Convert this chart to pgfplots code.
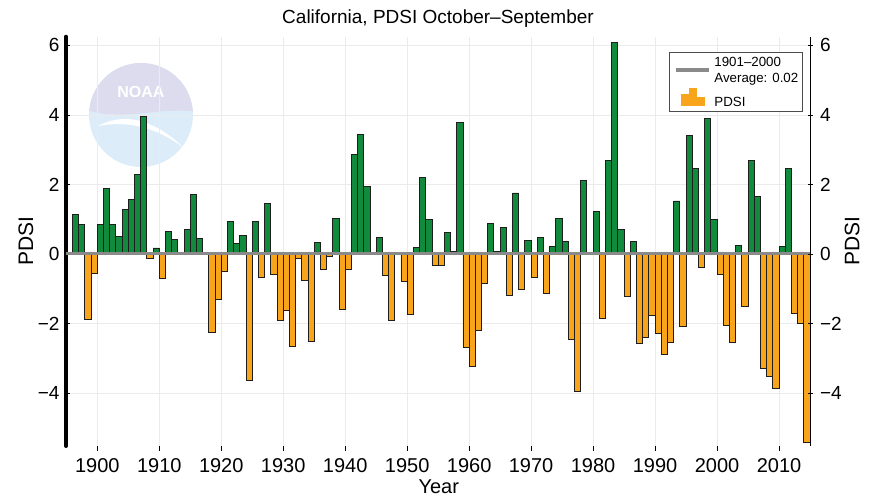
\documentclass[border=0pt]{standalone}
\usepackage{fontspec}
\setmainfont{Liberation Sans}
\usepackage{pgfplots}
\pgfplotsset{compat=1.18}
\usepackage{pgfplotstable}
\definecolor{pgreen}{HTML}{128A3E}
\definecolor{porange}{HTML}{F9A51B}
\definecolor{avggray}{HTML}{8A8A8A}
\definecolor{gridgray}{HTML}{EBEBEB}
\definecolor{edge}{HTML}{1E1E1E}
\definecolor{logoblue}{HTML}{DCEDF9}
\definecolor{logolav}{HTML}{DCDCEE}

\pgfplotstableread{
year pdsi
1896 1.15
1897 0.86
1900 0.86
1901 1.88
1902 0.86
1903 0.52
1904 1.28
1905 1.57
1906 2.29
1907 3.96
1909 0.18
1911 0.66
1912 0.43
1913 0.01
1914 0.72
1915 1.71
1916 0.46
1917 0.01
1921 0.94
1922 0.30
1923 0.53
1925 0.94
1927 1.45
1935 0.33
1938 1.03
1941 2.87
1942 3.45
1943 1.96
1944 0.01
1945 0.48
1948 0.01
1951 0.19
1952 2.21
1953 1.01
1956 0.62
1957 0.08
1958 3.79
1963 0.89
1964 0.07
1965 0.77
1967 1.76
1969 0.40
1971 0.48
1973 0.21
1974 1.03
1975 0.37
1978 2.13
1979 0.01
1980 1.23
1982 2.70
1983 6.09
1984 0.71
1986 0.37
1993 1.53
1995 3.41
1996 2.47
1998 3.89
1999 0.99
2003 0.25
2005 2.70
2006 1.67
2010 0.21
2011 2.47
}\postable

\pgfplotstableread{
year pdsi
1898 -1.87
1899 -0.54
1908 -0.12
1910 -0.71
1918 -2.25
1919 -1.31
1920 -0.50
1924 -3.64
1926 -0.66
1928 -0.58
1929 -1.90
1930 -1.62
1931 -2.66
1932 -0.13
1933 -0.76
1934 -2.50
1936 -0.43
1937 -0.05
1939 -1.60
1940 -0.43
1946 -0.62
1947 -1.91
1949 -0.77
1950 -1.72
1954 -0.31
1955 -0.31
1959 -2.67
1960 -3.21
1961 -2.20
1962 -0.84
1966 -1.18
1968 -1.01
1970 -0.66
1972 -1.14
1976 -2.46
1977 -3.93
1981 -1.85
1985 -1.21
1987 -2.57
1988 -2.39
1989 -1.75
1990 -2.28
1991 -2.89
1992 -2.54
1994 -2.08
1997 -0.37
2000 -0.59
2001 -2.06
2002 -2.54
2004 -1.50
2007 -3.27
2008 -3.51
2009 -3.86
2012 -1.69
2013 -1.98
2014 -5.40
}\negtable

\begin{document}
\begin{tikzpicture}
\path[use as bounding box] (-66pt,-52pt) rectangle (811pt,446pt);
% faint NOAA watermark (logo shapes only)
\fill[logoblue] (75pt,331pt) circle (52pt);
\begin{scope}
  \clip (75pt,331pt) circle (52pt);
  \fill[logolav] (20pt,336pt) .. controls (60pt,324pt) and (95pt,340pt) .. (130pt,334pt) -- (130pt,390pt) -- (20pt,390pt) -- cycle;
  \fill[white] (32pt,320pt) .. controls (60pt,335pt) and (90pt,325pt) .. (118pt,298pt) .. controls (92pt,318pt) and (62pt,326pt) .. (32pt,320pt) -- cycle;
\end{scope}
\node[white, font=\bfseries\fontsize{16}{16}\selectfont] at (75pt,354pt) {NOAA};

\begin{axis}[
  at={(0pt,0pt)}, anchor=south west,
  width=744pt, height=409.3pt, scale only axis,
  xmin=1894.45, xmax=2014.5, ymin=-5.51, ymax=6.25,
  axis x line*=bottom, axis y line*=left,
  x axis line style={draw=none},
  y axis line style={black, line width=4pt, line cap=round},
  xtick={1899.5,1909.5,1919.5,1929.5,1939.5,1949.5,1959.5,1969.5,1979.5,1989.5,1999.5,2009.5},
  xticklabels={1900,1910,1920,1930,1940,1950,1960,1970,1980,1990,2000,2010},
  ytick={-4,-2,0,2,4,6},
  yticklabels={−4,−2,0,2,4,6},
  grid=major,
  major grid style={gridgray, line width=1pt},
  xtick align=outside, ytick align=inside,
  major tick length=4.5pt,
  x tick style={black, line width=0.9pt},
  y tick style={black, line width=0.9pt},
  /pgf/number format/assume math mode=true,
  xticklabel style={font=\fontsize{20}{24}\selectfont, yshift=-4pt},
  yticklabel style={font=\fontsize{19}{23}\selectfont, xshift=-3pt},
  xlabel={Year},
  xlabel style={font=\fontsize{20}{24}\selectfont, at={(axis description cs:0.501,-0.1)}, anchor=center},
  ylabel={PDSI},
  ylabel style={font=\fontsize{21}{25}\selectfont, at={(axis description cs:-0.054,0.5)}, anchor=center},
  legend cell align=left,
  legend style={at={(axis description cs:0.991,0.9638)}, anchor=north east,
    draw=black!70, line width=0.9pt, fill=white,
    font=\fontsize{13.3}{16}\selectfont,
    inner xsep=2.6pt, inner ysep=1.5pt, row sep=9pt},
]
\addlegendimage{legend image code/.code={\path (-9pt,-4pt) (31pt,-4pt);
  \fill[avggray] (-5pt,-5.3pt) rectangle (27pt,-2.7pt);}}
\addlegendentry{\begin{tabular}{@{}l@{}}1901–2000\\Average: 0.02\end{tabular}}
\addlegendimage{legend image code/.code={
  \fill[porange] (0pt,-2pt) rectangle (7pt,9pt);
  \fill[porange] (8.3pt,-2pt) rectangle (15.3pt,15pt);
  \fill[porange] (16.6pt,-2pt) rectangle (23.6pt,6pt);}}
\addlegendentry{PDSI}

\addplot[ybar, bar width=1, bar shift=0pt, fill=pgreen, draw=edge, line width=0.9pt, forget plot]
  table[x=year, y=pdsi] {\postable};
\addplot[ybar, bar width=1, bar shift=0pt, fill=porange, draw=edge, line width=0.9pt, forget plot]
  table[x=year, y=pdsi] {\negtable};
\addplot[avggray, line width=2.5pt, forget plot] coordinates {(1894.45,0.02) (2014.5,0.02)};
\end{axis}

\begin{axis}[
  at={(0pt,0pt)}, anchor=south west,
  width=744pt, height=409.3pt, scale only axis,
  xmin=1894.45, xmax=2014.5, ymin=-5.51, ymax=6.25,
  axis x line=none, axis y line*=right,
  y axis line style={black, line width=0.9pt},
  ytick={-4,-2,0,2,4,6},
  yticklabels={−4,−2,0,2,4,6},
  ytick align=center, major tick length=5pt,
  y tick style={black, line width=0.9pt},
  yticklabel style={font=\fontsize{19}{23}\selectfont, xshift=4pt},
  ylabel={PDSI},
  ylabel style={font=\fontsize{21}{25}\selectfont, at={(axis description cs:1.0565,0.5)}, anchor=center},
]
\addplot[draw=none] coordinates {(1900,0)};
\end{axis}

\node[font=\fontsize{19}{23}\selectfont] at (372pt,427pt) {California, PDSI October–September};
\end{tikzpicture}
\end{document}
